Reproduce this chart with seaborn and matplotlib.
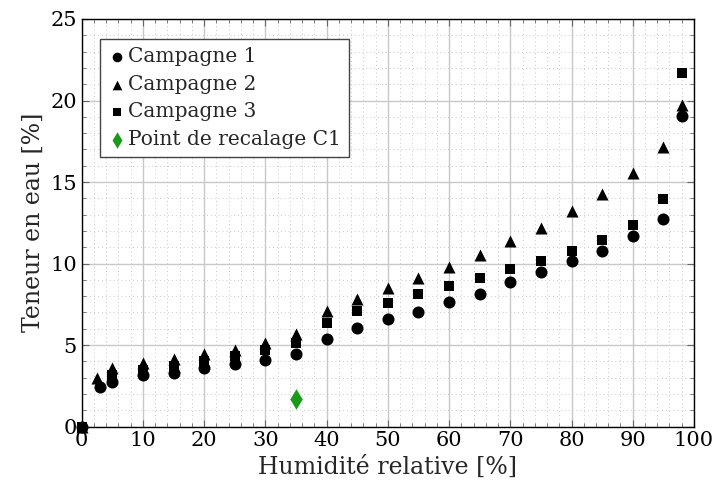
import numpy as np
import pandas as pd
import matplotlib
matplotlib.use("Agg")
import matplotlib.pyplot as plt
import seaborn as sns
from matplotlib.ticker import MultipleLocator

# humidite relative [%]
hr = [0, 2.5, 5, 10, 15, 20, 25, 30, 35, 40, 45, 50, 55, 60, 65, 70, 75, 80, 85, 90, 95, 98]
hr_c1 = [0, 3, 5, 10, 15, 20, 25, 30, 35, 40, 45, 50, 55, 60, 65, 70, 75, 80, 85, 90, 95, 98]
c1 = [0, 2.4, 2.75, 3.15, 3.3, 3.57, 3.83, 4.08, 4.45, 5.38, 6.02, 6.57, 7.02, 7.61,
      8.16, 8.84, 9.49, 10.14, 10.77, 11.67, 12.75, 19.08]
c2 = [0, 3.0, 3.57, 3.91, 4.12, 4.45, 4.69, 5.1, 5.67, 7.1, 7.85, 8.47, 9.14, 9.79,
      10.51, 11.37, 12.18, 13.22, 14.24, 15.57, 17.14, 19.75]
hr_c3 = [0, 5, 10, 15, 20, 25, 30, 35, 40, 45, 50, 55, 60, 65, 70, 75, 80, 85, 90, 95, 98]
c3 = [0, 3.16, 3.5, 3.71, 4.04, 4.32, 4.69, 5.14, 6.36, 7.08, 7.59, 8.12, 8.61, 9.12,
      9.65, 10.16, 10.77, 11.47, 12.35, 13.94, 21.7]
hr_recal = [35]
recal = [1.69]

df1 = pd.DataFrame({"HR": hr_c1, "W": c1})
df2 = pd.DataFrame({"HR": hr, "W": c2})
df3 = pd.DataFrame({"HR": hr_c3, "W": c3})
dfr = pd.DataFrame({"HR": hr_recal, "W": recal})

sns.set_style("ticks")
plt.rcParams["font.family"] = ["DejaVu Serif"]

fig = plt.figure(figsize=(7.13, 4.96), dpi=100)
ax = fig.add_axes([0.1146, 0.14, 0.8587, 0.8217])

sns.scatterplot(data=df1, x="HR", y="W", marker="o", color="black", s=75,
                edgecolor="black", linewidth=0, label="Campagne 1", ax=ax, clip_on=False, zorder=3)
sns.scatterplot(data=df2, x="HR", y="W", marker="^", color="black", s=75,
                edgecolor="black", linewidth=0, label="Campagne 2", ax=ax, clip_on=False, zorder=3)
sns.scatterplot(data=df3, x="HR", y="W", marker="s", color="black", s=60,
                edgecolor="black", linewidth=0, label="Campagne 3", ax=ax, clip_on=False, zorder=3)
sns.scatterplot(data=dfr, x="HR", y="W", marker="d", color="#1a9a1a", s=110,
                edgecolor="#1a9a1a", linewidth=0, label="Point de recalage C1", ax=ax, zorder=3)

ax.set_xlim(0, 100)
ax.set_ylim(0, 25)
ax.xaxis.set_major_locator(MultipleLocator(10))
ax.xaxis.set_minor_locator(MultipleLocator(2))
ax.yaxis.set_major_locator(MultipleLocator(5))
ax.yaxis.set_minor_locator(MultipleLocator(1))
ax.grid(which="major", color="#c8c8c8", linewidth=1.0)
ax.grid(which="minor", color="#c8c8c8", linewidth=0.7, linestyle=(0, (1, 3)))
ax.set_axisbelow(True)
ax.tick_params(which="both", direction="in", top=True, right=True, labelsize=15,
               color="#666666", labelcolor="black")
ax.tick_params(which="major", length=5)
ax.tick_params(which="minor", length=3)
for sp in ax.spines.values():
    sp.set_linewidth(1.0)
    sp.set_color("black")

ax.set_xlabel("Humidité relative [%]", fontsize=17)
ax.set_ylabel("Teneur en eau [%]", fontsize=17)

leg = ax.legend(loc="upper left", bbox_to_anchor=(0.03, 0.95), fontsize=14.5, frameon=True,
                fancybox=False, edgecolor="#444444", framealpha=1, handletextpad=0.1,
                handlelength=0.9, borderpad=0.4, labelspacing=0.42, borderaxespad=0,
                markerscale=0.8)
leg.get_frame().set_linewidth(1.0)

fig.savefig("out.png", dpi=100)
